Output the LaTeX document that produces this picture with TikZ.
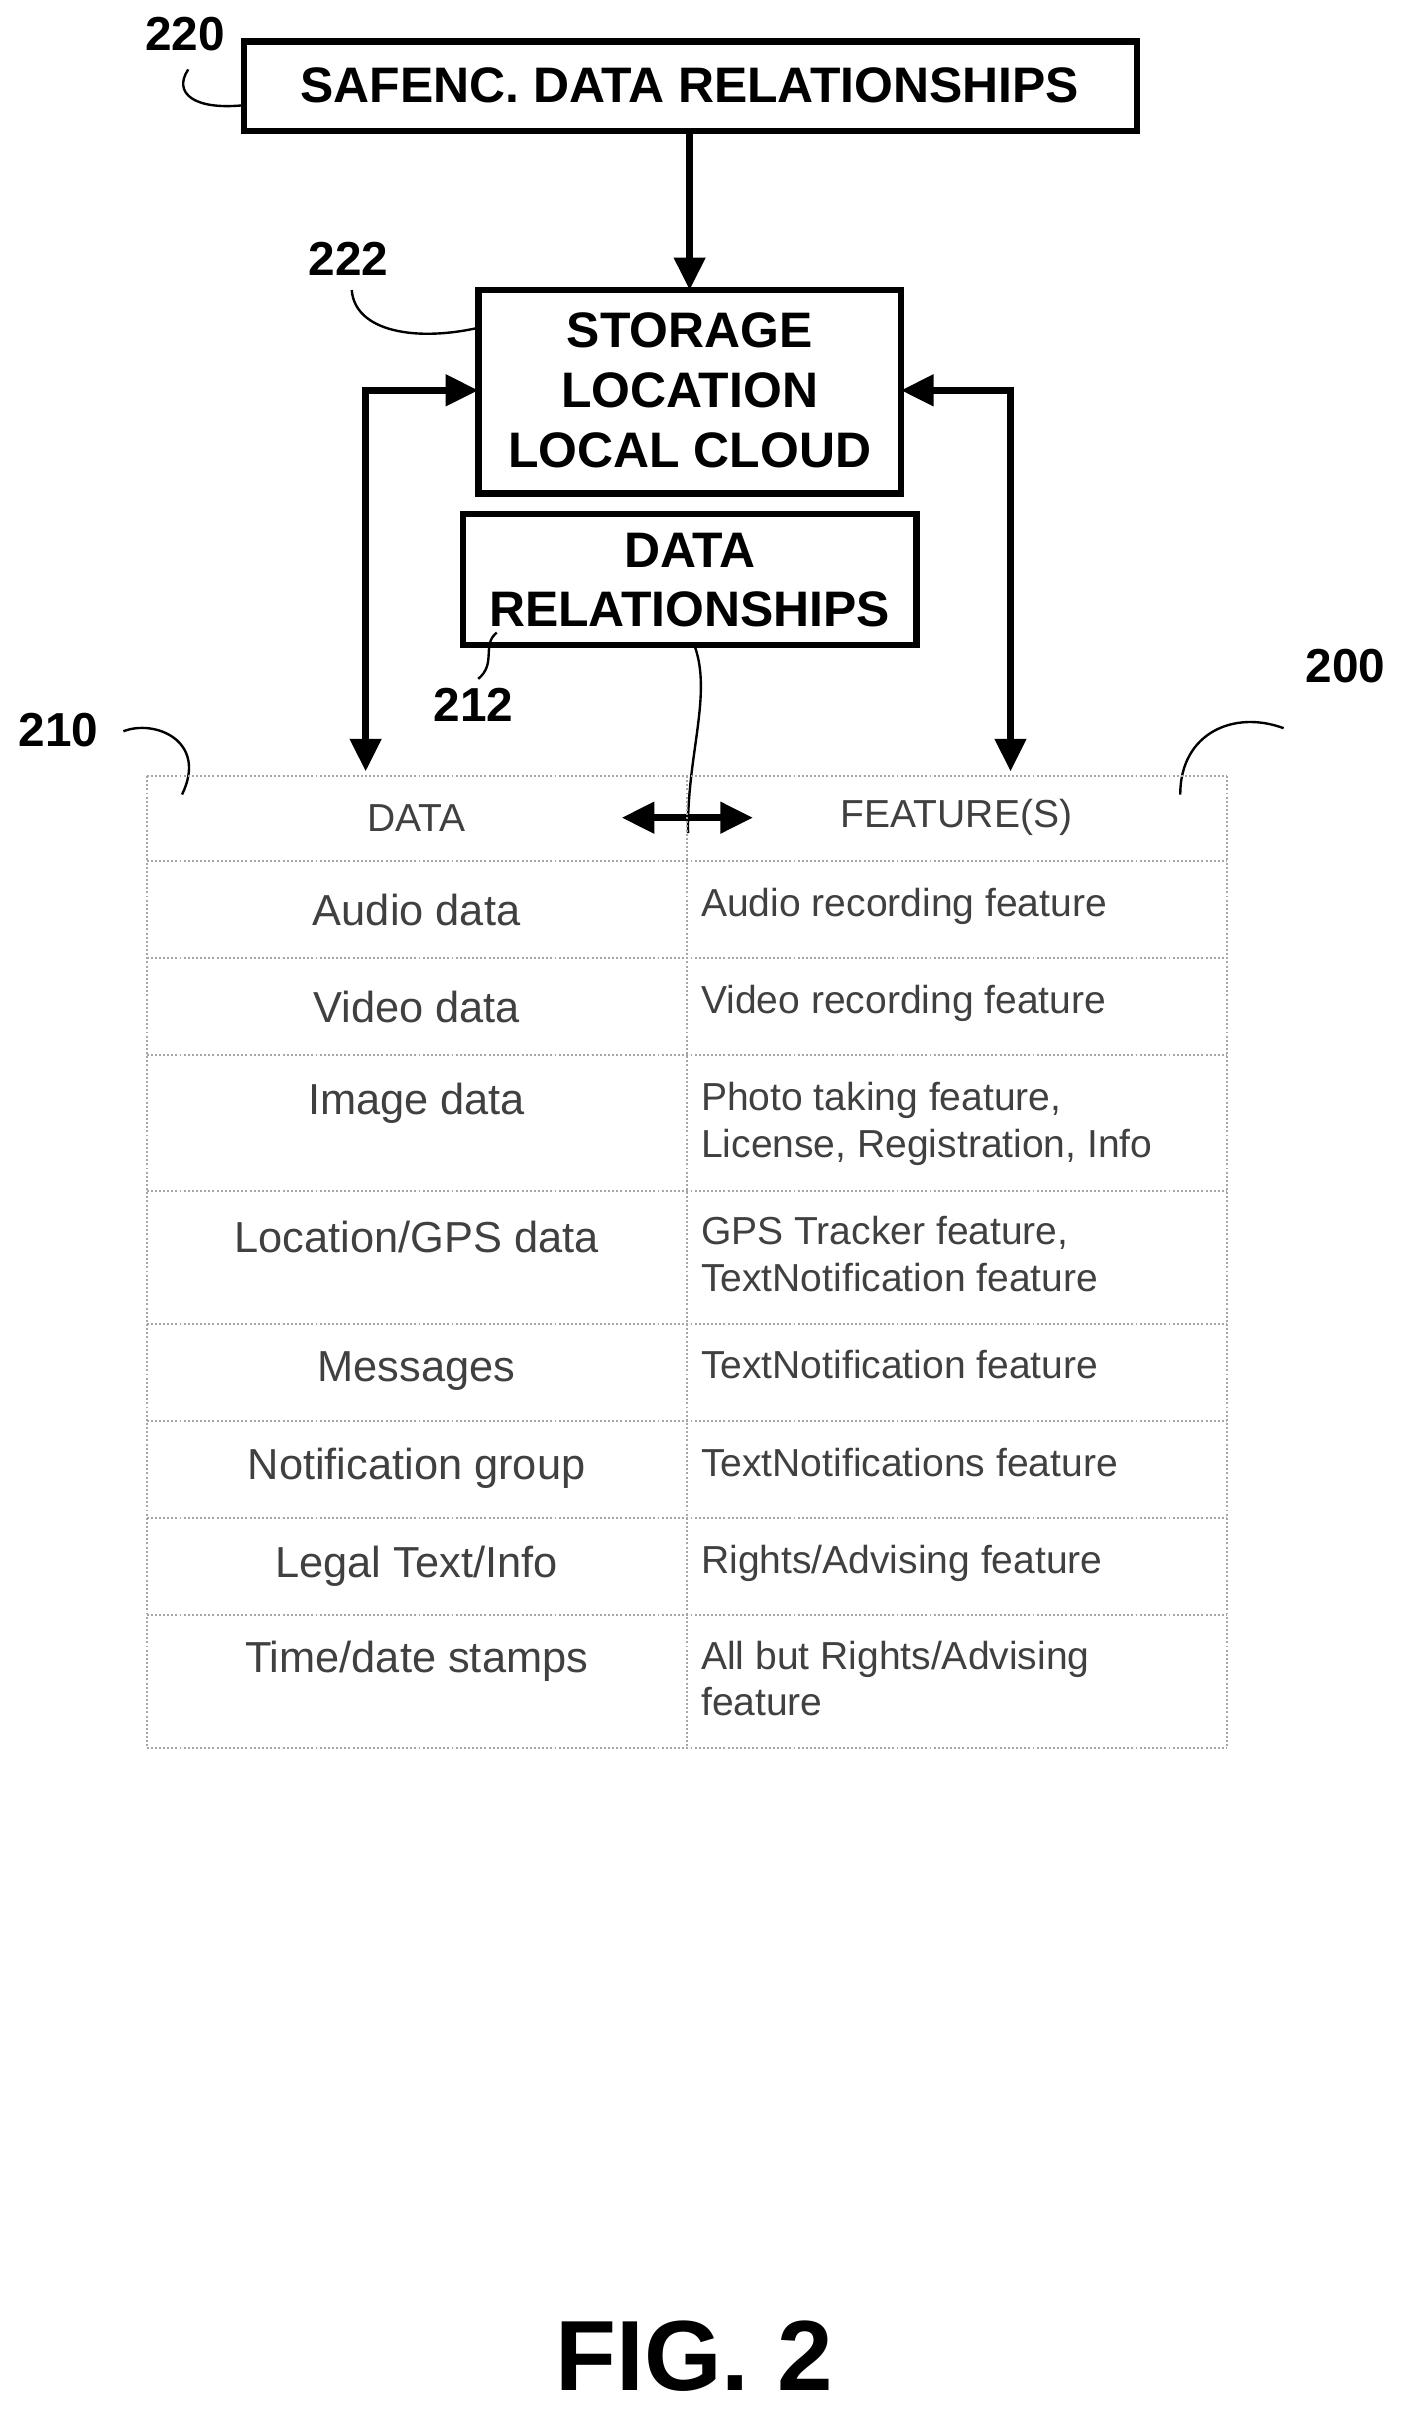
\documentclass[tikz,border=0pt]{standalone}
\usepackage{fontspec}
\setmainfont{Liberation Sans}
\usetikzlibrary{arrows.meta}
\begin{document}
\begin{tikzpicture}[x=0.05cm,y=-0.05cm,
  box/.style={draw,line width=6pt,inner sep=0pt},
  btxt/.style={font=\fontsize{46}{55}\selectfont\bfseries,align=center},
  lbl/.style={font=\fontsize{44}{46}\selectfont\bfseries},
  conn/.style={line width=6pt,-{Triangle[length=30pt,width=28pt]}},
  dconn/.style={line width=6pt,{Triangle[length=30pt,width=28pt]}-{Triangle[length=30pt,width=28pt]}},
  lead/.style={line width=2.2pt},
  grid/.style={draw=gray!70,line width=1.8pt,dotted},
  ct/.style={font=\fontsize{40}{44}\selectfont,text=black!75},
  rt/.style={font=\fontsize{36}{43}\selectfont,text=black!75,align=left,anchor=north west}]
\useasboundingbox (0,0) rectangle (910,1566);
% boxes
\draw[box] (158,27) rectangle (737,85);
\node[btxt] (t220) at (447,55) {SAFENC. DATA RELATIONSHIPS};
\draw[box] (310,188) rectangle (584,320);
\node[btxt] (t222) at (447,253) {STORAGE\\LOCATION\\LOCAL CLOUD};
\draw[box] (300,333) rectangle (594,418);
\node[btxt] (t212) at (447,376) {DATA\\RELATIONSHIPS};
\coordinate (b220) at (447,85); \coordinate (top222) at (447,188);
\draw[conn] (b220) -- (top222);
\coordinate (l222) at (310,253); \coordinate (r222) at (584,253);
\coordinate (ld) at (237,500); \coordinate (rd) at (655,500);
\draw[dconn] (l222) -- (237,253) -- (ld);
\draw[dconn] (r222) -- (655,253) -- (rd);
% labels
\node[lbl] (n220) at (120,22) {220};
\draw[lead] (122,45) .. controls (112,60) and (125,72) .. (160,68);
\node[lbl] (n222) at (226,168) {222};
\draw[lead] (228,188) .. controls (230,215) and (270,222) .. (312,212);
\node[lbl] (n212) at (307,457) {212};
\draw[lead] (310,440) .. controls (322,430) and (312,418) .. (322,410);
\node[lbl] (n210) at (38,473) {210};
\draw[lead] (80,474) .. controls (100,466) and (135,480) .. (118,515);
\node[lbl] (n200) at (872,432) {200};
\draw[lead] (832,472) .. controls (800,460) and (765,475) .. (765,515);
% wavy and double arrow
\coordinate (b212) at (450,418); \coordinate (wend) at (446,540);
\draw[lead] (b212) .. controls (462,450) and (445,490) .. (wend);
\coordinate (da) at (403,530); \coordinate (db) at (488,530);
\draw[dconn] (da) -- (db);
% table
\foreach \y in {503,558,621,684,772,858,921,984,1047,1133} \draw[grid] (95,\y) -- (795,\y);
\draw[grid] (95,503) -- (95,1133); \draw[grid] (445,503) -- (445,1133); \draw[grid] (795,503) -- (795,1133);
\node[font=\fontsize{36}{30}\selectfont,text=black!75] (h1) at (270,530) {DATA};
\node[font=\fontsize{36}{30}\selectfont,text=black!75] (h2) at (620,530) {FEATURE(S)};
\node[ct] at (270,590) {Audio data};
\node[ct] at (270,653) {Video data};
\node[ct] at (270,715) {Image data};
\node[ct] at (270,802) {Location/GPS data};
\node[ct] at (270,889) {Messages};
\node[ct] at (270,952) {Notification group};
\node[ct] at (270,1015) {Legal Text/Info};
\node[ct] at (270,1077) {Time/date stamps};
\node[rt] at (452,573) {Audio recording feature};
\node[rt] at (452,636) {Video recording feature};
\node[rt] at (452,699) {Photo taking feature,\\License, Registration, Info};
\node[rt] at (452,786) {GPS Tracker feature,\\TextNotification feature};
\node[rt] at (452,873) {TextNotification feature};
\node[rt] at (452,936) {TextNotifications feature};
\node[rt] at (452,999) {Rights/Advising feature};
\node[rt] at (452,1061) {All but Rights/Advising\\feature};
\node[font=\fontsize{92}{96}\selectfont\bfseries] (fig) at (450,1527) {FIG. 2};
\end{tikzpicture}
\end{document}
